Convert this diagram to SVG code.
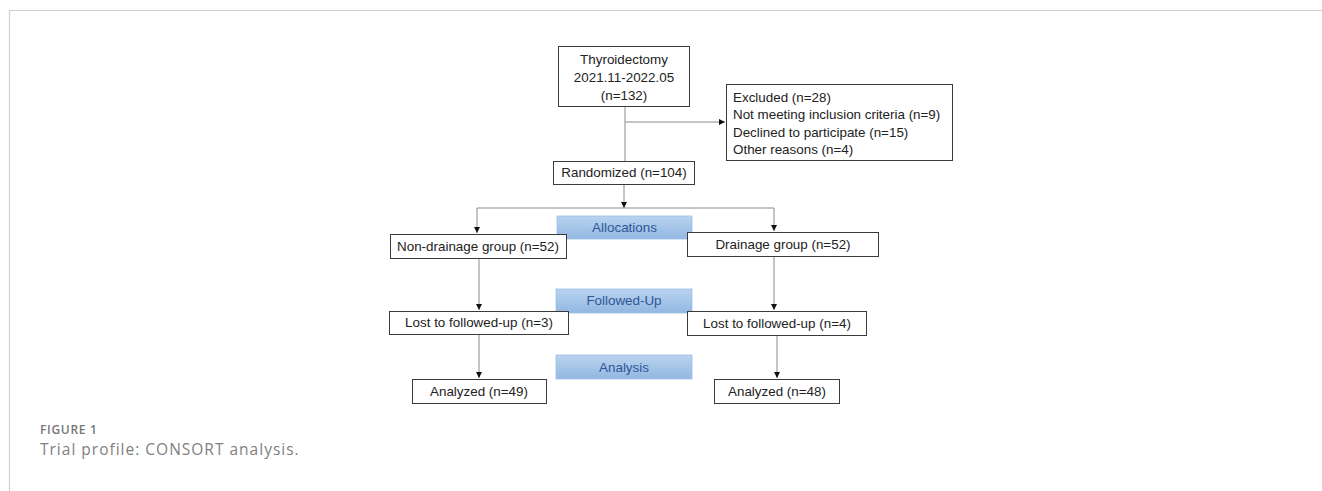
<svg xmlns="http://www.w3.org/2000/svg" width="1322" height="491" viewBox="0 0 1322 491">
<style>
.box{fill:#fff;stroke:#3a3a3a;stroke-width:1}
.t{font-family:"Liberation Sans",Arial,sans-serif;font-size:13.4px;fill:#222}
.c{stroke:#8a8a8a;stroke-width:1;fill:none}
.band{fill:url(#g);stroke:#9fbfe3;stroke-width:0.8}
.bt{font-family:"Liberation Sans",Arial,sans-serif;font-size:13.4px;fill:#2e5597;text-anchor:middle}
</style>
<defs>
<linearGradient id="g" x1="0" y1="0" x2="0" y2="1">
<stop offset="0" stop-color="#b9d3ef"/>
<stop offset="1" stop-color="#92b7e2"/>
</linearGradient>
<marker id="a" viewBox="0 0 8 8" refX="8" refY="4" markerWidth="6" markerHeight="6" orient="auto">
<path d="M0,0 L8,4 L0,8 z" fill="#111"/>
</marker>
</defs>
<rect width="1322" height="491" fill="#fff"/>
<path d="M9.5,491 V10.5 H1322" stroke="#cfcfcf" stroke-width="1.2" fill="none"/>
<g id="connectors">
<path class="c" d="M625,106 V161"/>
<path class="c" d="M625,122 H725" marker-end="url(#a)"/>
<path class="c" d="M624,184 V208" marker-end="url(#a)"/>
<path class="c" d="M477,208 H774"/>
<path class="c" d="M477,208 V233" marker-end="url(#a)"/>
<path class="c" d="M774,208 V231" marker-end="url(#a)"/>
<path class="c" d="M479,258 V310" marker-end="url(#a)"/>
<path class="c" d="M774,256 V310" marker-end="url(#a)"/>
<path class="c" d="M479,334 V378" marker-end="url(#a)"/>
<path class="c" d="M777,335 V378" marker-end="url(#a)"/>
</g>
<g id="thyroidectomy">
<rect class="box" x="558.5" y="46.5" width="131" height="60"/>
<text class="t" x="624" y="64" text-anchor="middle">Thyroidectomy</text>
<text class="t" x="624" y="82" text-anchor="middle">2021.11-2022.05</text>
<text class="t" x="624" y="100" text-anchor="middle">(n=132)</text>
</g>
<g id="excluded">
<rect class="box" x="726.5" y="84.5" width="226" height="76"/>
<text class="t" x="733" y="102">Excluded (n=28)</text>
<text class="t" x="733" y="119">Not meeting inclusion criteria (n=9)</text>
<text class="t" x="733" y="137">Declined to participate (n=15)</text>
<text class="t" x="733" y="154">Other reasons (n=4)</text>
</g>
<g id="randomized">
<rect class="box" x="553.5" y="161.5" width="141" height="23"/>
<text class="t" x="624" y="177" text-anchor="middle">Randomized (n=104)</text>
</g>
<g id="allocations">
<rect class="band" x="557" y="216" width="135" height="23"/>
<text class="bt" x="624.5" y="232">Allocations</text>
</g>
<g id="nondrainage">
<rect class="box" x="390.5" y="234.5" width="176" height="24"/>
<text class="t" x="478" y="251" text-anchor="middle">Non-drainage group (n=52)</text>
</g>
<g id="drainage">
<rect class="box" x="687.5" y="232.5" width="191" height="24"/>
<text class="t" x="783" y="249" text-anchor="middle">Drainage group (n=52)</text>
</g>
<g id="followedup">
<rect class="band" x="556" y="289" width="136" height="24"/>
<text class="bt" x="624" y="305">Followed-Up</text>
</g>
<g id="lost3">
<rect class="box" x="389.5" y="311.5" width="179" height="23"/>
<text class="t" x="479" y="327" text-anchor="middle">Lost to followed-up (n=3)</text>
</g>
<g id="lost4">
<rect class="box" x="687.5" y="311.5" width="179" height="24"/>
<text class="t" x="777" y="328" text-anchor="middle">Lost to followed-up (n=4)</text>
</g>
<g id="analysis">
<rect class="band" x="556" y="355" width="136" height="24"/>
<text class="bt" x="624" y="372">Analysis</text>
</g>
<g id="analyzed49">
<rect class="box" x="412.5" y="379.5" width="134" height="24"/>
<text class="t" x="479" y="396" text-anchor="middle">Analyzed (n=49)</text>
</g>
<g id="analyzed48">
<rect class="box" x="714.5" y="379.5" width="125" height="24"/>
<text class="t" x="777" y="396" text-anchor="middle">Analyzed (n=48)</text>
</g>
<text x="40" y="434" font-family="'Open Sans',Lato,sans-serif" font-size="12px" font-weight="600" letter-spacing="0.7" fill="#777">FIGURE 1</text>
<text x="40" y="455" font-family="'Open Sans',Lato,sans-serif" font-size="15.5px" letter-spacing="1" fill="#808080">Trial profile: CONSORT analysis.</text>
</svg>
